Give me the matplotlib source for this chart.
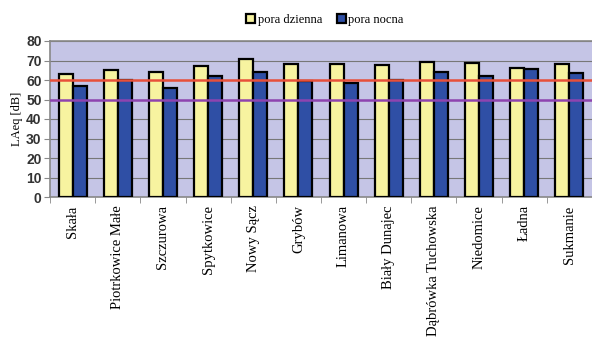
import matplotlib
matplotlib.use("Agg")
import matplotlib.pyplot as plt
import numpy as np

# Dane
places = ['Skała', 'Piotrkowice Małe', 'Szczurowa', 'Spytkowice', 'Nowy Sącz', 'Grybów',
          'Limanowa', 'Biały Dunajec', 'Dąbrówka Tuchowska', 'Niedomice', 'Ładna', 'Sukmanie']
day = [63.2, 65.0, 64.1, 67.0, 70.8, 68.0, 68.2, 67.7, 69.3, 68.6, 66.2, 68.0]
night = [57.1, 60.1, 55.8, 62.0, 64.3, 59.6, 58.5, 59.9, 64.3, 62.0, 65.5, 63.4]
limit_day = 60
limit_night = 50
yticks = list(range(0, 81, 10))

fig = plt.figure(figsize=(5.92, 3.40), dpi=100)
ax = fig.add_axes([50 / 592, 1 - 197 / 340, 542 / 592, 156 / 340])
ax.set_facecolor('#c5c5e6')

x = np.arange(len(places))
w = 0.31
ax.bar(x - w / 2, day, w, color='#f7f3a0', edgecolor='black', linewidth=1.6, label='pora dzienna', zorder=3)
ax.bar(x + w / 2, night, w, color='#2f4fa5', edgecolor='black', linewidth=1.6, label='pora nocna', zorder=3)

ax.axhline(limit_day, color='#e8503a', linewidth=1.8, zorder=4)
ax.axhline(limit_night, color='#8e44b0', linewidth=1.8, zorder=4)

ax.set_ylim(0, 80)
ax.set_xlim(-0.5, len(places) - 0.5)
ax.set_yticks(yticks)
ax.set_yticklabels([str(v) for v in yticks], fontsize=10, fontweight='bold', color='#333333', family='Liberation Sans')
ax.yaxis.grid(True, color='#777777', linewidth=0.8, zorder=0)

ax.set_xticks(x)
ax.set_xticklabels(places, rotation=90, fontsize=10.5, family='Liberation Serif')
ax.set_xticks(np.arange(len(places) + 1) - 0.5, minor=True)
ax.tick_params(axis='x', which='major', length=0, pad=6)
ax.tick_params(axis='x', which='minor', length=4, color='#888888')
ax.tick_params(axis='y', length=4, color='#888888', pad=2)

for side in ['left', 'bottom', 'top']:
    ax.spines[side].set_color('#888888')
    ax.spines[side].set_linewidth(1.2)
ax.spines['right'].set_visible(False)

ax.set_ylabel('LAeq [dB]', family='Liberation Serif', fontsize=9, labelpad=2)

leg = fig.legend(loc='center', bbox_to_anchor=(325 / 592, 1 - 20 / 340), ncol=2, frameon=False,
                 prop={'family': 'Liberation Serif', 'size': 9}, handlelength=0.7, handleheight=0.7,
                 handletextpad=0.2, columnspacing=1.2)

fig.savefig('out.png', dpi=100)
